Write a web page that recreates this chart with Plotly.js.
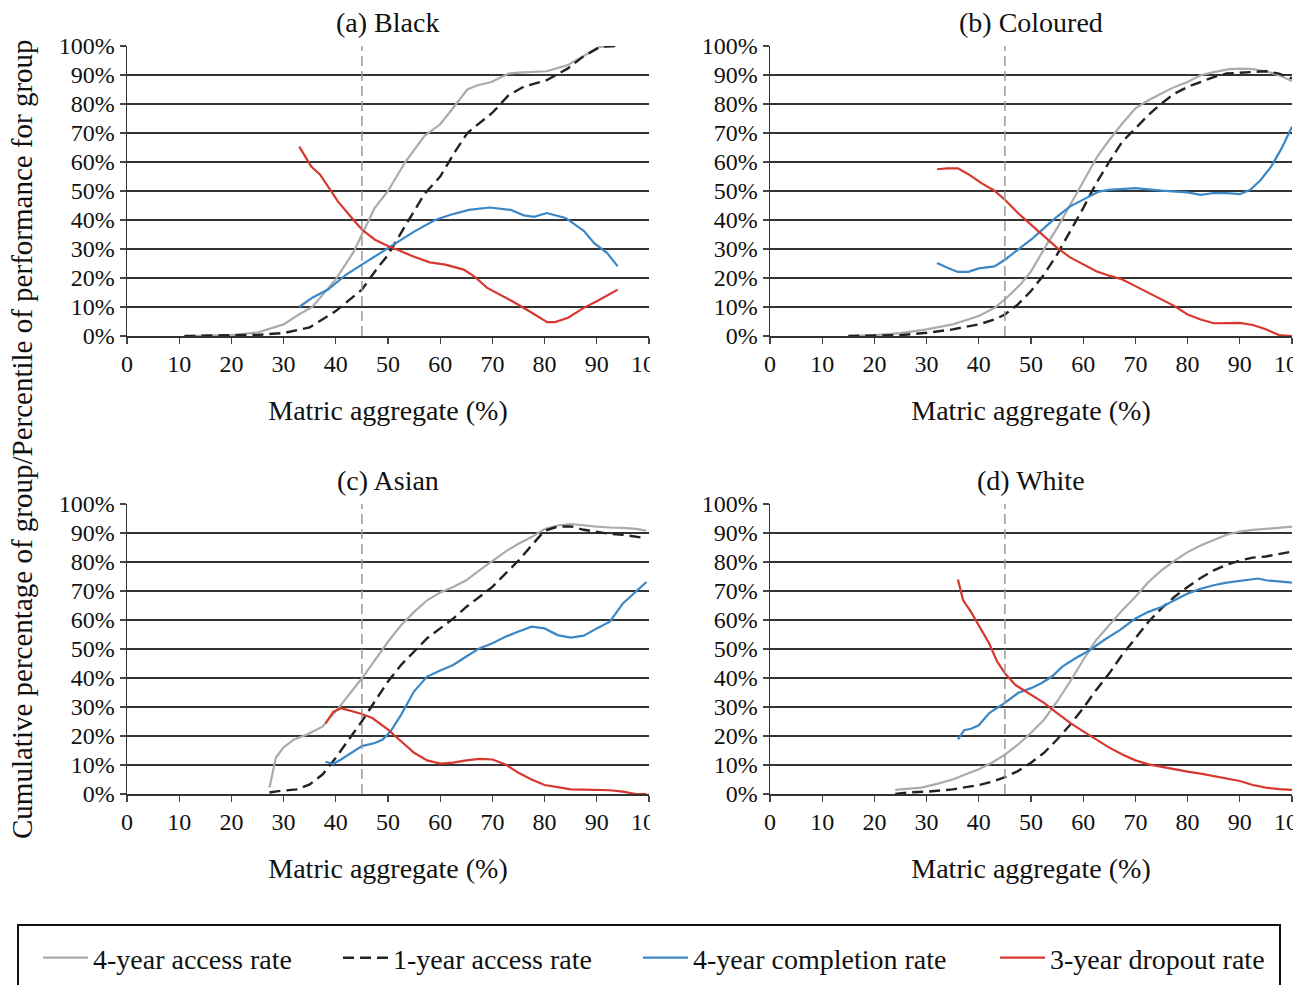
<!DOCTYPE html>
<html>
<head>
<meta charset="utf-8">
<script src="https://cdn.plot.ly/plotly-3.0.1.min.js"></script>
<style>html,body{margin:0;padding:0;background:#fff;}#chart{width:1305px;height:985px;}</style>
</head>
<body>
<div id="chart"></div>
<script>
// ---------- DATA ----------
const panelTitles = ["(a) Black", "(b) Coloured", "(c) Asian", "(d) White"];
const seriesNames = ["4-year access rate", "1-year access rate", "4-year completion rate", "3-year dropout rate"];
const xTitle = "Matric aggregate (%)";
const yTitle = "Cumulative percentage of group/Percentile of performance for group";
const xTicks = [0, 10, 20, 30, 40, 50, 60, 70, 80, 90, 100];
const yTicks = [0, 10, 20, 30, 40, 50, 60, 70, 80, 90, 100];
const yTickLabels = ["0%", "10%", "20%", "30%", "40%", "50%", "60%", "70%", "80%", "90%", "100%"];
const cutoff = [45];

// (a) Black
const blackAccess4X = [11, 15, 20, 25, 30, 33, 35.5, 40, 43.4, 45, 47.4, 50, 53.3, 57, 60, 62.2, 65.2, 67, 69.8, 73.1, 75, 80.4, 84.4, 86.3, 90.6, 93.6];
const blackAccess4Y = [0, 0.05, 0.3, 1.2, 4, 7.5, 10, 19.5, 29, 35, 44, 50, 60, 69, 73, 78, 85, 86.4, 87.6, 90.5, 90.8, 91.3, 93.4, 95.4, 99.7, 100];
const blackAccess1X = [11, 20, 25, 30, 35, 40, 45, 48, 50, 53.3, 57, 60, 63, 65.2, 70, 73.1, 76, 80.4, 84.4, 87.5, 90.6, 93.6];
const blackAccess1Y = [0, 0.1, 0.4, 1, 3, 8.6, 16, 23.5, 28, 38, 49, 55, 64, 70, 77, 83, 86, 88.2, 92.2, 96.5, 99.7, 100];
const blackComplX = [33, 35.5, 38.5, 42, 45, 50, 55, 59, 62, 65.5, 69.5, 73.5, 76, 78, 80.4, 84, 87.5, 89.5, 92, 94];
const blackComplY = [10, 13.2, 16, 21.2, 24.6, 30.4, 36, 40, 41.8, 43.5, 44.3, 43.5, 41.6, 41.1, 42.4, 40.7, 36.3, 32, 28.6, 24];
const blackDropX = [33, 35.3, 37, 40.4, 43.4, 45, 47.5, 50, 52.5, 55, 58, 61, 64.5, 66.5, 69, 71.5, 74, 77, 80.5, 82, 84.5, 87.5, 90, 94];
const blackDropY = [65.3, 58.4, 55.6, 46.4, 40, 36.7, 33.2, 31, 29.2, 27.3, 25.4, 24.6, 22.9, 20.6, 16.6, 14.3, 11.8, 8.6, 4.8, 4.8, 6.3, 9.7, 12, 16];

// (b) Coloured
const colAccess4X = [15, 20, 25, 30, 35, 40, 43, 45, 48, 50, 53, 55, 57.5, 60, 62.7, 65, 67.5, 70, 72.5, 75, 77.5, 80, 82.5, 85, 88, 90, 92.5, 95, 97.5, 100];
const colAccess4Y = [0, 0.3, 1, 2.3, 4, 6.9, 9.7, 12.6, 17.8, 22.3, 31.5, 37.2, 45.2, 53.3, 61.9, 67.6, 73.3, 78.5, 81.3, 83.6, 85.9, 87.6, 89.9, 91, 92, 92.2, 92, 91.3, 89.9, 87.9];
const colAccess1X = [15, 25, 30, 35, 40, 43, 45, 47.5, 50, 52.5, 55, 57.5, 60, 62.5, 65, 67.5, 70, 72.5, 75, 77.5, 80, 82.5, 85, 87.5, 90, 92.5, 95, 97.5, 100];
const colAccess1Y = [0, 0.3, 1.1, 2.3, 4, 5.7, 7.4, 10.9, 15.5, 21.2, 28.1, 36.1, 44.1, 52.7, 60.1, 67, 71.6, 76.2, 80.2, 83.6, 85.9, 87.6, 89.3, 90.5, 90.8, 91, 91.3, 90.5, 88.8];
const colComplX = [32, 34, 36, 38, 40, 43, 45, 47.5, 50, 52.5, 55, 57.5, 60, 63, 65, 70, 75, 80, 82.5, 85, 87.5, 90, 92, 94, 96, 98, 100];
const colComplY = [25.2, 23.5, 22.1, 22.1, 23.3, 24, 26.3, 29.8, 33.2, 37.2, 41.2, 44.7, 47, 49.8, 50.4, 51, 50.1, 49.5, 48.7, 49.3, 49.3, 48.9, 50.4, 53.8, 58.4, 64.7, 72.2];
const colDropX = [32, 34, 36, 38, 40.5, 43, 45, 47.5, 50, 52.5, 55, 57.5, 60, 62.5, 65, 67.5, 70, 72.5, 75, 77.5, 80, 82.5, 85, 87.5, 90, 92.5, 95, 97.5, 100];
const colDropY = [57.5, 57.8, 57.8, 55.8, 52.7, 50.1, 47, 42.4, 38.4, 34.4, 30.4, 27.1, 24.6, 22.3, 20.8, 19.5, 17.2, 14.9, 12.6, 10.3, 7.4, 5.7, 4.4, 4.4, 4.5, 3.8, 2.3, 0.3, 0];

// (c) Asian
const asAccess4X = [27.3, 28.5, 30, 32, 34.5, 37.5, 40.5, 42.5, 45, 47.5, 50, 52.5, 55, 57.5, 60, 62.5, 65, 67.5, 70, 72.5, 75, 77.5, 80, 82.5, 85, 87.5, 90, 92.5, 95, 97.5, 99.5];
const asAccess4Y = [2.2, 12.5, 16.1, 18.8, 20.5, 23.3, 29.6, 34.2, 39.9, 46.2, 52.5, 58.2, 62.8, 66.8, 69.5, 71.4, 73.7, 77.1, 80.5, 83.6, 86.3, 88.6, 91.4, 92.6, 93.1, 92.6, 92.2, 91.9, 91.8, 91.4, 90.8];
const asAccess1X = [27.3, 29, 32.5, 35, 37.5, 40, 42.5, 45, 47.5, 50, 52.5, 55, 57.5, 60, 62.5, 65, 67.5, 70, 72.5, 75, 77.5, 80, 82.5, 85, 87.5, 90, 92.5, 95, 97.5, 99.5];
const asAccess1Y = [0.5, 1, 1.6, 3.3, 6.8, 12.5, 18.8, 25.1, 32, 38.8, 44.5, 49.1, 53.7, 57.1, 60.5, 64.5, 68, 71.4, 76, 80.5, 85.7, 90.8, 92.2, 92.3, 91.1, 90.3, 89.7, 89.4, 88.8, 88.2];
const asComplX = [38, 39.5, 41, 43, 45, 47.5, 49, 50.5, 52.5, 55, 57.5, 60, 62.5, 65, 67.5, 70, 72.5, 75, 77.5, 80, 82.5, 85, 87.5, 90, 92.5, 95, 97.5, 99.5];
const asComplY = [11.1, 10.4, 11.9, 14.2, 16.5, 17.6, 18.8, 21.6, 27.3, 35.4, 40.5, 42.6, 44.5, 47.4, 50.2, 52, 54.2, 56, 57.7, 57.1, 54.8, 53.9, 54.6, 57.1, 59.4, 65.7, 69.7, 73.1];
const asDropX = [38, 39.5, 41, 43, 45, 47, 50, 52.5, 55, 57.5, 60, 62.5, 65, 67.5, 70, 72.5, 75, 77.5, 80, 82.5, 85, 87.5, 90, 92.5, 95, 97.5, 99.5];
const asDropY = [24.3, 28.3, 29.6, 28.5, 27.6, 26.2, 22.2, 18.2, 14.2, 11.6, 10.5, 10.8, 11.6, 12.1, 11.9, 10.2, 7.3, 5, 3.1, 2.4, 1.6, 1.5, 1.5, 1.3, 0.8, 0, 0];

// (d) White
const whAccess4X = [24, 26, 29, 32, 35, 37.5, 40, 42.5, 45, 47.5, 50, 52.5, 55, 57.5, 60, 62.5, 65, 67.5, 70, 72.5, 75, 77.5, 80, 82.5, 85, 87.5, 90, 92.5, 95, 97.5, 100];
const whAccess4Y = [1.4, 1.8, 2.2, 3.5, 5, 6.8, 8.5, 10.8, 13.6, 17, 21.1, 25.6, 31.9, 38.8, 46.2, 53.1, 58.2, 63.4, 68, 73.1, 77.1, 80.5, 83.4, 85.7, 87.6, 89.4, 90.5, 91.1, 91.4, 91.8, 92.2];
const whAccess1X = [24, 27, 30, 35, 40, 42.5, 45, 47.5, 50, 52.5, 55, 57.5, 60, 62.5, 65, 67.5, 70, 72.5, 75, 77.5, 80, 82.5, 85, 87.5, 90, 92.5, 95, 97.5, 100];
const whAccess1Y = [0, 0.6, 0.8, 1.6, 3.1, 4.2, 5.8, 7.9, 10.8, 14.2, 18.8, 23.9, 29.6, 35.9, 41.6, 48.1, 53.7, 59.4, 64, 68, 71.4, 74.5, 77.1, 79.1, 80.5, 81.5, 81.9, 82.8, 83.6];
const whComplX = [36, 37.2, 38.5, 40, 42, 44, 45, 47.5, 50, 52, 54, 56, 58.5, 61, 64, 67, 70, 72.5, 75, 77.5, 80, 82.5, 85, 87.5, 90, 92.5, 93.5, 95, 97.5, 100];
const whComplY = [18.8, 22, 22.5, 23.7, 27.9, 30.2, 31.4, 34.8, 36.5, 38.2, 40.5, 43.9, 46.8, 49.3, 53.1, 56.5, 60.5, 62.8, 64.5, 66.8, 69.1, 70.8, 72, 72.9, 73.5, 74, 74.3, 73.7, 73.2, 72.9];
const whDropX = [36, 37, 38.5, 40, 42, 43.5, 45, 47, 50, 52.5, 55, 57.5, 60, 62.5, 65, 67.5, 70, 72.5, 75, 77.5, 80, 82.5, 85, 87.5, 90, 92.5, 95, 97.5, 100];
const whDropY = [74, 66.8, 62.8, 58.2, 51.9, 45.7, 41.6, 37.6, 34.2, 31.4, 27.9, 24.5, 21.6, 18.8, 16, 13.6, 11.6, 10.2, 9.3, 8.5, 7.7, 7, 6.2, 5.4, 4.5, 3.1, 2.2, 1.7, 1.4];

// ---------- STYLE ----------
const FONT = "Liberation Serif, Times New Roman, serif";
const styles = [
  {color: "#ababab", width: 2.2, dash: "solid"},
  {color: "#222222", width: 2.4, dash: "11px,6px"},
  {color: "#3b87c5", width: 2.2, dash: "solid"},
  {color: "#d8372e", width: 2.2, dash: "solid"}
];
const legendWidths = [240, 240, 297, 210];

const panels = [
  [[blackAccess4X, blackAccess4Y], [blackAccess1X, blackAccess1Y], [blackComplX, blackComplY], [blackDropX, blackDropY]],
  [[colAccess4X, colAccess4Y], [colAccess1X, colAccess1Y], [colComplX, colComplY], [colDropX, colDropY]],
  [[asAccess4X, asAccess4Y], [asAccess1X, asAccess1Y], [asComplX, asComplY], [asDropX, asDropY]],
  [[whAccess4X, whAccess4Y], [whAccess1X, whAccess1Y], [whComplX, whComplY], [whDropX, whDropY]]
];

const W = 1305, H = 985;
const px = v => v / W;
const py = v => (H - v) / H;

// plot-area pixel boxes
const xDomLeft = [px(127), px(649)];
const xDomRight = [px(770), px(1292)];
const yDomTop = [py(336), py(46)];
const yDomBot = [py(794), py(504)];
const xDoms = [xDomLeft, xDomRight, xDomLeft, xDomRight];
const yDoms = [yDomTop, yDomTop, yDomBot, yDomBot];

const traces = [];
panels.forEach((series, p) => {
  const xa = p === 0 ? "x" : "x" + (p + 1);
  const ya = p === 0 ? "y" : "y" + (p + 1);
  series.forEach((s, i) => {
    traces.push({
      type: "scatter", mode: "lines",
      x: s[0], y: s[1], xaxis: xa, yaxis: ya,
      name: seriesNames[i], legendgroup: seriesNames[i],
      showlegend: p === 0, legendwidth: legendWidths[i],
      line: {color: styles[i].color, width: styles[i].width, dash: styles[i].dash},
      hoverinfo: "x+y+name"
    });
  });
});

const layout = {
  width: W, height: H,
  margin: {l: 0, r: 0, t: 0, b: 0},
  paper_bgcolor: "#ffffff", plot_bgcolor: "#ffffff",
  font: {family: FONT, color: "#111111", size: 24},
  showlegend: true,
  legend: {
    orientation: "h", x: px(38), xanchor: "left", y: py(958), yanchor: "middle",
    font: {family: FONT, size: 28, color: "#111111"},
    itemwidth: 45, bgcolor: "rgba(0,0,0,0)", borderwidth: 0, traceorder: "normal"
  },
  annotations: [],
  shapes: []
};

for (let p = 0; p < 4; p++) {
  const xk = p === 0 ? "xaxis" : "xaxis" + (p + 1);
  const yk = p === 0 ? "yaxis" : "yaxis" + (p + 1);
  const ya = p === 0 ? "y" : "y" + (p + 1);
  const xa = p === 0 ? "x" : "x" + (p + 1);
  layout[xk] = {
    domain: xDoms[p], anchor: ya, range: [0, 100], tickmode: "array", tickvals: xTicks,
    showgrid: false, zeroline: false, showline: true, linecolor: "#333333", linewidth: 1.5,
    ticks: "outside", ticklen: 6, tickwidth: 1.3, tickcolor: "#444444",
    ticklabeloverflow: "allow",
    tickfont: {family: FONT, size: 24, color: "#111111"},
    title: {text: xTitle, font: {family: FONT, size: 28, color: "#111111"}, standoff: 24},
    fixedrange: true
  };
  layout[yk] = {
    domain: yDoms[p], anchor: xa, range: [0, 100], tickmode: "array", tickvals: yTicks, ticktext: yTickLabels,
    showgrid: true, gridcolor: "#333333", gridwidth: 1.5, zeroline: false,
    showline: true, linecolor: "#333333", linewidth: 1.5,
    ticks: "outside", ticklen: 6, tickwidth: 1.3, tickcolor: "#444444",
    tickfont: {family: FONT, size: 24, color: "#111111"},
    fixedrange: true
  };
  // panel title
  layout.annotations.push({
    text: panelTitles[p], xref: "paper", yref: "paper",
    x: (xDoms[p][0] + xDoms[p][1]) / 2, xanchor: "center", y: yDoms[p][1], yanchor: "bottom", yshift: 6,
    showarrow: false, font: {family: FONT, size: 28, color: "#111111"}
  });
  // vertical dashed reference line at the cutoff
  layout.shapes.push({
    type: "line", xref: xa, yref: ya + " domain", x0: cutoff[0], x1: cutoff[0], y0: 0, y1: 1,
    line: {color: "#9a9a9a", width: 1.5, dash: "10px,5px"}, layer: "above"
  });
  // clipping of the "100" tick label at the plot edge
  const edge = W * xDoms[p][1];
  const axisY = H - H * yDoms[p][0];
  layout.shapes.push({
    type: "rect", xref: "paper", yref: "paper",
    x0: px(edge + 1), x1: px(edge + 24), y0: py(axisY + 9), y1: py(axisY + 45),
    fillcolor: "#ffffff", line: {width: 0}, layer: "above"
  });
}

// y-axis title (shared)
layout.annotations.push({
  text: yTitle, xref: "paper", yref: "paper", x: px(22), xanchor: "center", y: py(439), yanchor: "middle",
  textangle: -90, showarrow: false, font: {family: FONT, size: 29, color: "#111111"}
});

// legend frame
layout.shapes.push({
  type: "rect", xref: "paper", yref: "paper",
  x0: px(18), x1: px(1280), y0: py(1000), y1: py(925),
  line: {color: "#111111", width: 2}, fillcolor: "rgba(0,0,0,0)", layer: "above"
});

Plotly.newPlot("chart", traces, layout, {displayModeBar: false, staticPlot: true});
</script>
</body>
</html>
